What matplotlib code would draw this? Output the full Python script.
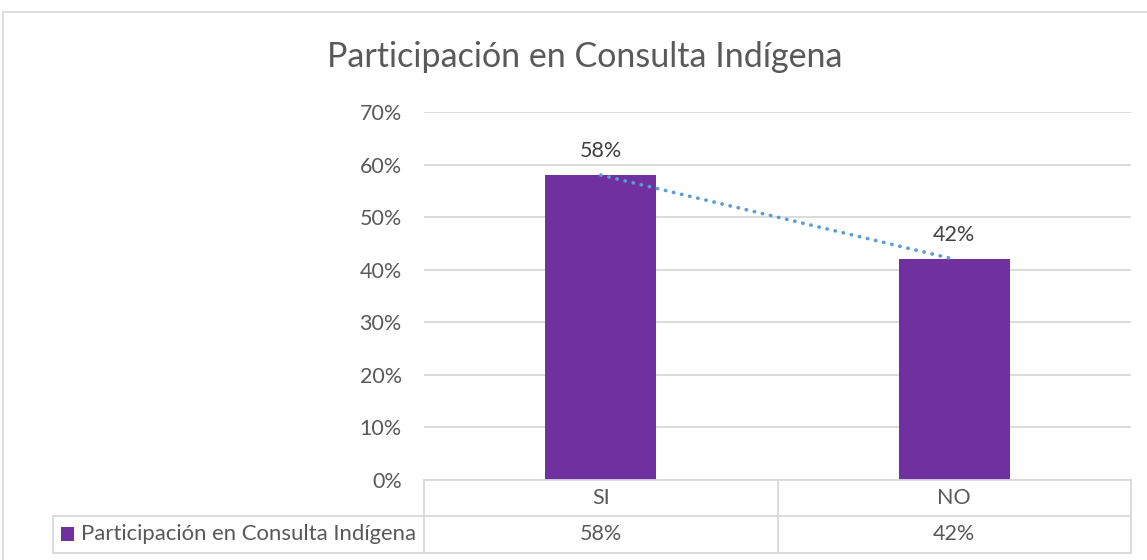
import numpy as np
import matplotlib
matplotlib.use("Agg")
import matplotlib.pyplot as plt
from matplotlib.patches import Rectangle
from matplotlib.lines import Line2D

# ---- data ----
title = "Participación en Consulta Indígena"
series_name = "Participación en Consulta Indígena"
categories = ["SI", "NO"]
values = [0.58, 0.42]
y_ticks = [0.0, 0.1, 0.2, 0.3, 0.4, 0.5, 0.6, 0.7]

# ---- style ----
W, H = 1147, 560
FONT = "Lato"
TXT = "#595959"
BAR = "#7030A0"
TREND = "#5B9BD5"
GRID = "#D9D9D9"
FS = 15.5

plt.rcParams["font.family"] = [FONT, "DejaVu Sans"]

fig = plt.figure(figsize=(W / 100, H / 100), dpi=100)

def fx(px):
    return px / W

def fy(py):
    return 1 - py / H

# outer chart frame
fig.add_artist(Rectangle((fx(3), fy(1000)), fx(1200), fy(12) - fy(1000),
                         transform=fig.transFigure, fill=False,
                         edgecolor=GRID, linewidth=1.2))

ax_l, ax_r, ax_t, ax_b = 424, 1131, 112, 480
ax = fig.add_axes([fx(ax_l), fy(ax_b), fx(ax_r - ax_l), (ax_b - ax_t) / H])

x = np.arange(len(categories))
ax.bar(x, values, width=0.315, color=BAR, zorder=3)

# linear trendline
coef = np.polyfit(x, values, 1)
ax.plot(x, np.polyval(coef, x), color=TREND, linewidth=2.6,
        linestyle=(0, (0.1, 2.2)), dash_capstyle="round", zorder=4)

for xi, v in zip(x, values):
    ax.annotate(f"{v:.0%}", (xi, v), xytext=(0, 10), textcoords="offset points",
                ha="center", va="bottom", fontsize=FS, color="#404040")

ax.set_xlim(-0.5, len(categories) - 0.5)
ax.set_ylim(0, 0.7)
ax.set_yticks(y_ticks)
ax.set_yticklabels([f"{t:.0%}" for t in y_ticks])
ax.set_xticks([])
ax.tick_params(axis="y", length=0, pad=16, labelsize=FS, labelcolor=TXT)
ax.grid(axis="y", color=GRID, linewidth=1.3, zorder=0)
for s in ax.spines.values():
    s.set_visible(False)

# ---- data table ----
row1_top, row_mid, row_bot = 480, 516, 553
leg_left = 53
def line(x0, y0, x1, y1):
    fig.add_artist(Line2D([fx(x0), fx(x1)], [fy(y0), fy(y1)],
                          transform=fig.transFigure, color=GRID, linewidth=1.3))

line(ax_l, row1_top, ax_r, row1_top)
line(leg_left, row_mid, ax_r, row_mid)
line(leg_left, row_bot, ax_r, row_bot)
line(leg_left, row_mid, leg_left, row_bot)
line(ax_l, row1_top, ax_l, row_bot)
cat_w = (ax_r - ax_l) / len(categories)
for i in range(1, len(categories) + 1):
    xp = ax_l + cat_w * i
    line(xp, row1_top, xp, row_bot)

for xi, c, v in zip(x, categories, values):
    fig.text(fx(ax_l + cat_w * (xi + 0.5)), fy((row1_top + row_mid) / 2), c,
             ha="center", va="center", fontsize=FS, color=TXT)
    fig.text(fx(ax_l + cat_w * (xi + 0.5)), fy((row_mid + row_bot) / 2), f"{v:.0%}",
             ha="center", va="center", fontsize=FS, color=TXT)

fig.add_artist(Rectangle((fx(61), fy(541)), fx(13), fy(527) - fy(541),
                         transform=fig.transFigure, facecolor=BAR, edgecolor="none"))
fig.text(fx(81), fy((row_mid + row_bot) / 2), series_name,
         ha="left", va="center", fontsize=15.9, color=TXT)

fig.text(fx(585), fy(57), title, ha="center", va="center",
         fontsize=24.5, color=TXT)

fig.savefig("out.png", dpi=100)
